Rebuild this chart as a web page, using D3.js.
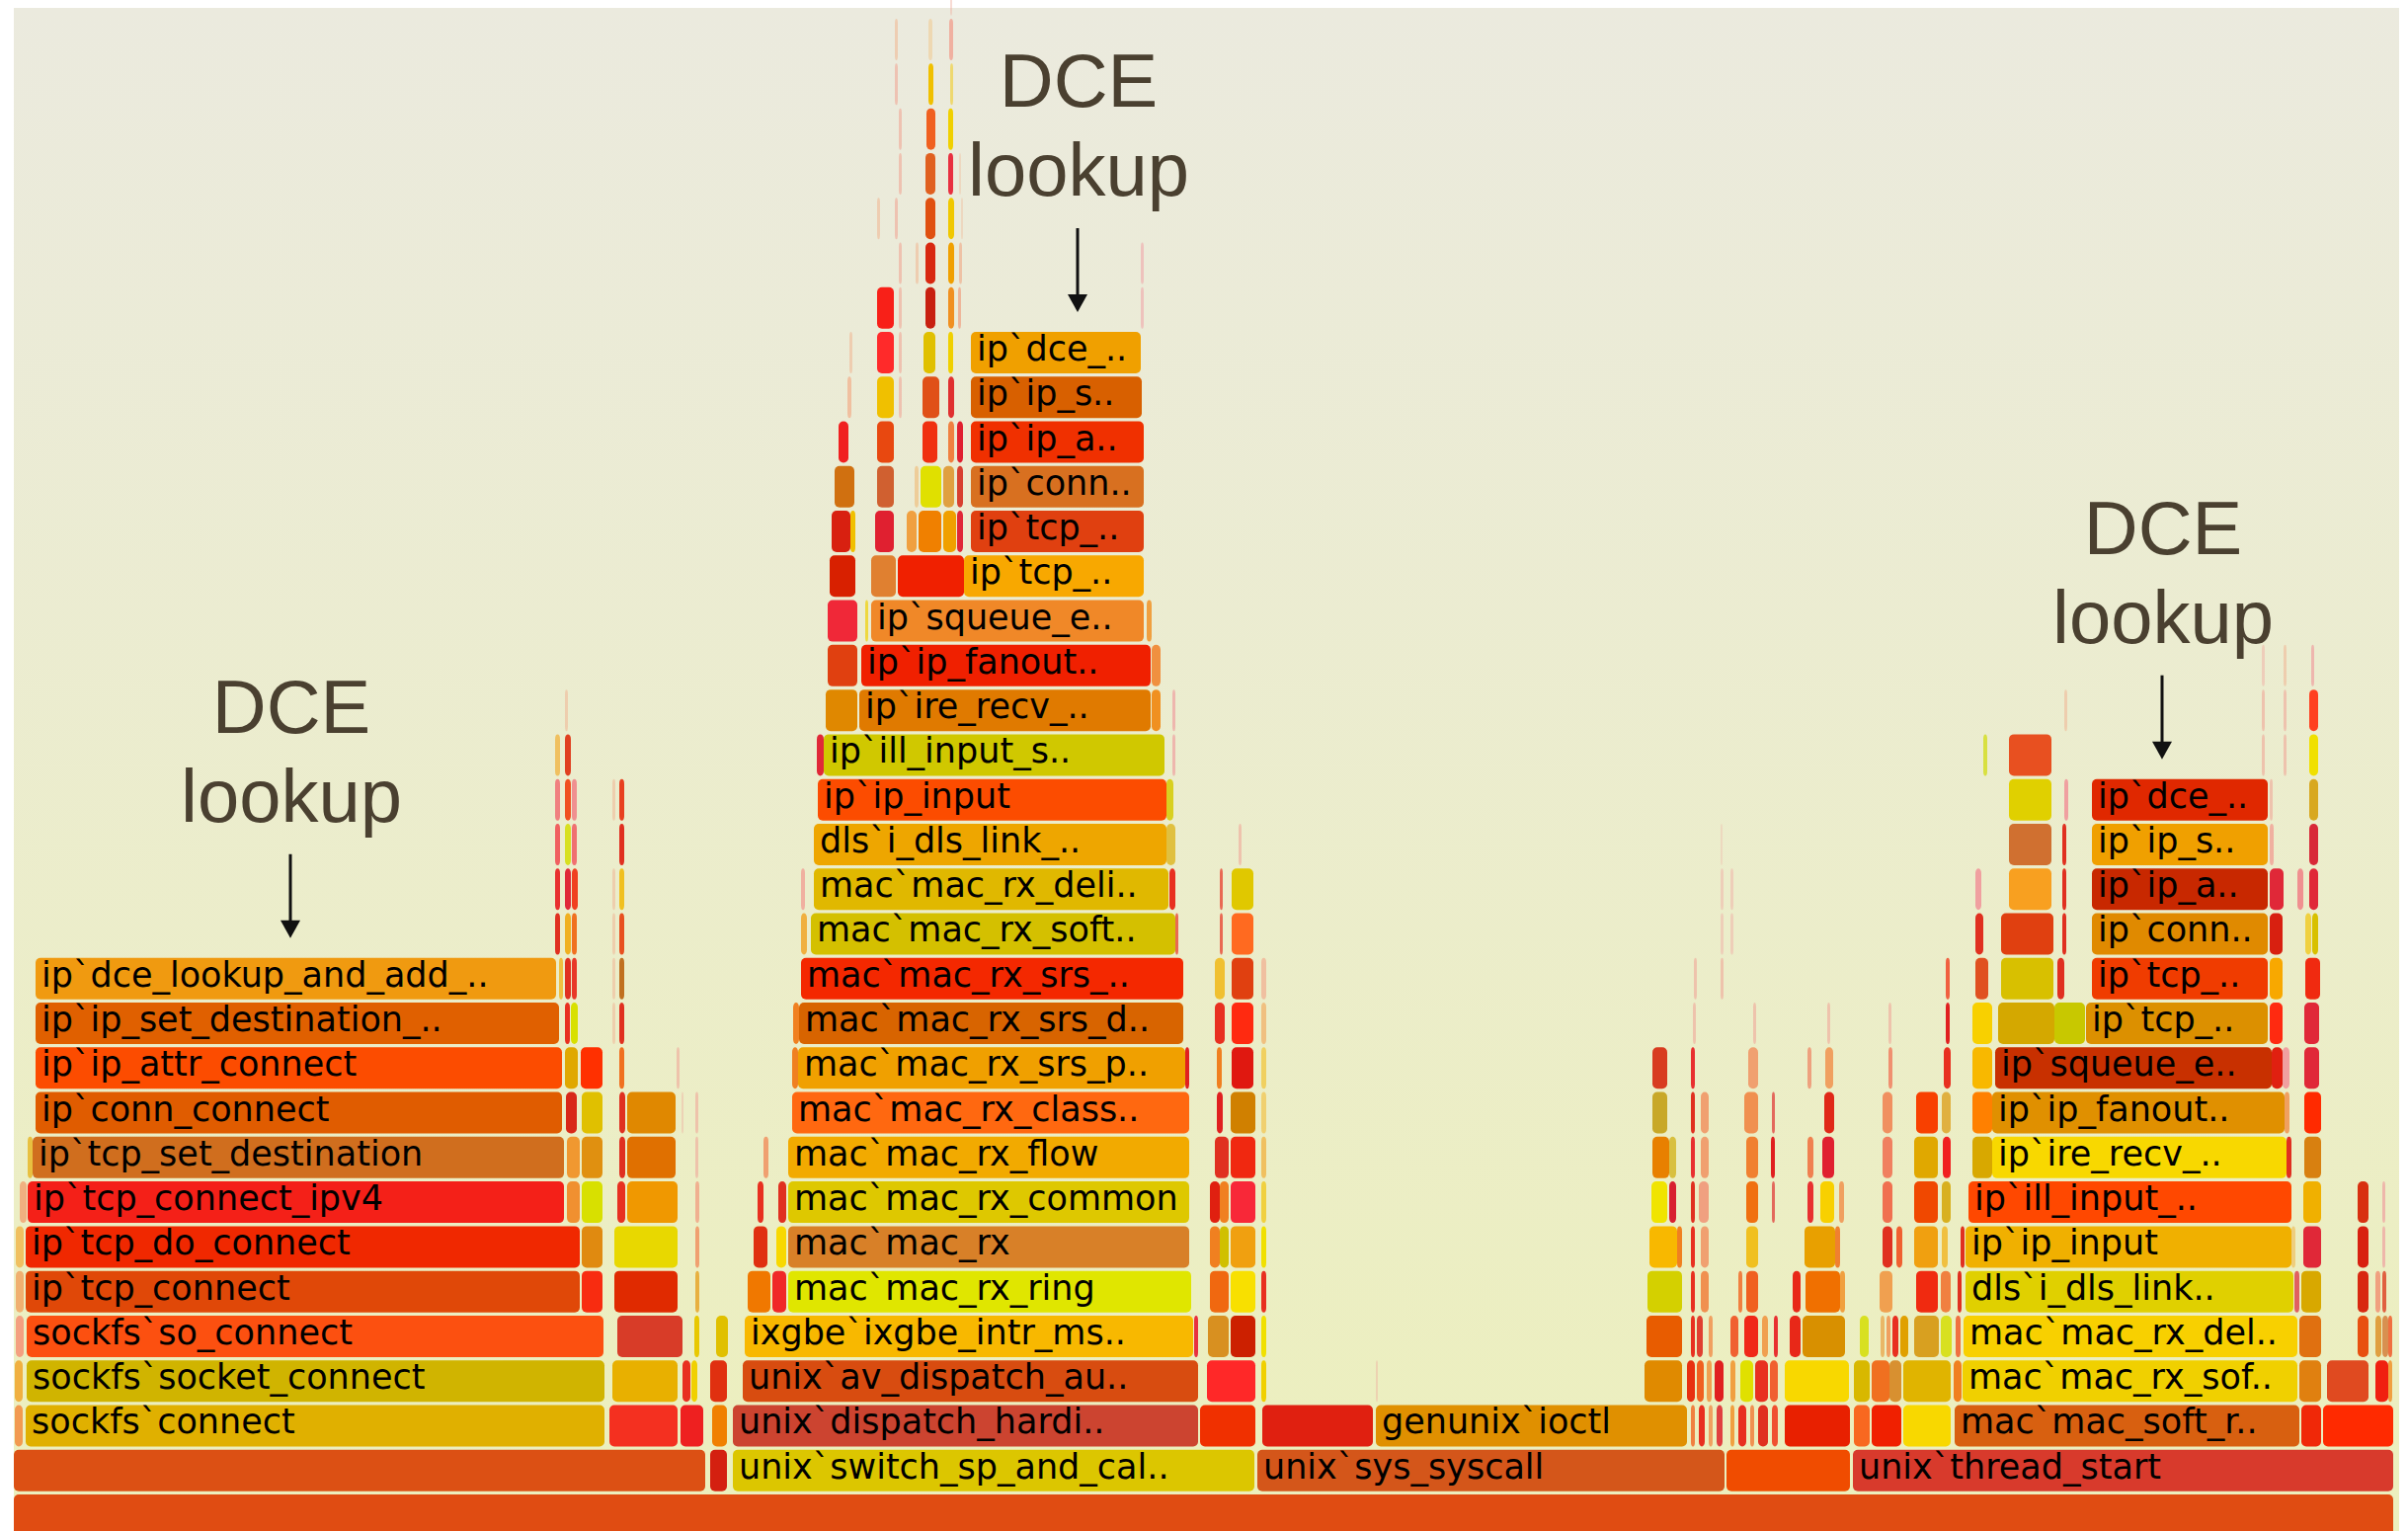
<!DOCTYPE html>
<html>
<head>
<meta charset="utf-8">
<script src="https://cdn.jsdelivr.net/npm/d3@7"></script>
<style>
  html, body { margin: 0; padding: 0; background: #ffffff; }
  svg { display: block; }
</style>
</head>
<body>
<script>
// ---------------------------------------------------------------------------
// Flame graph of kernel stacks: connect() path, NIC receive path, syscalls
// and soft-ring worker threads. Each frame: [depth, firstSample, samples, label]
// ---------------------------------------------------------------------------
const TOTAL_SAMPLES = 2409;

const rootFrames = [
  [0, 0, 2409, ""]
];
const rootFills = ["#e04c12"];

// sockfs connect() -> tcp -> ip destination / DCE lookup
const connectFrames = [
  [1, 0, 700, ""], [1, 705, 17, ""],
  [2, 1, 8, ""], [2, 12, 586, "sockfs`connect"], [2, 603, 69, ""], [2, 675, 23, ""], [2, 707, 15, ""],
  [3, 1, 8, ""], [3, 13, 585, "sockfs`socket_connect"], [3, 606, 66, ""], [3, 677, 8, ""], [3, 686, 6, ""], [3, 705, 17, ""],
  [4, 2, 8, ""], [4, 13, 584, "sockfs`so_connect"], [4, 611, 66, ""], [4, 689, 5, ""], [4, 711, 12, ""],
  [5, 2, 8, ""], [5, 12, 561, "ip`tcp_connect"], [5, 575, 21, ""], [5, 608, 64, ""], [5, 690, 4, ""],
  [6, 2, 8, ""], [6, 12, 561, "ip`tcp_do_connect"], [6, 575, 21, ""], [6, 608, 64, ""], [6, 690, 4, ""],
  [7, 6, 7, ""], [7, 14, 543, "ip`tcp_connect_ipv4"], [7, 560, 13, ""], [7, 575, 21, ""], [7, 611, 8, ""], [7, 621, 51, ""], [7, 690, 4, ""],
  [8, 14, 5, ""], [8, 19, 538, "ip`tcp_set_destination"], [8, 560, 13, ""], [8, 575, 21, ""], [8, 613, 6, ""], [8, 621, 49, ""], [8, 690, 3, ""],
  [9, 22, 533, "ip`conn_connect"], [9, 559, 11, ""], [9, 575, 21, ""], [9, 613, 6, ""], [9, 621, 49, ""], [9, 676, 2, ""], [9, 690, 3, ""],
  [10, 22, 533, "ip`ip_attr_connect"], [10, 558, 13, ""], [10, 574, 22, ""], [10, 613, 5, ""], [10, 671, 3, ""],
  [11, 22, 530, "ip`ip_set_destination_.."], [11, 558, 5, ""], [11, 564, 7, ""], [11, 613, 5, ""], [11, 606, 3, ""],
  [12, 22, 527, "ip`dce_lookup_and_add_.."], [12, 552, 4, ""], [12, 558, 6, ""], [12, 565, 5, ""], [12, 606, 3, ""], [12, 613, 5, ""],
  [13, 548, 5, ""], [13, 558, 6, ""], [13, 565, 5, ""], [13, 606, 3, ""], [13, 613, 5, ""],
  [14, 548, 5, ""], [14, 558, 6, ""], [14, 565, 6, ""], [14, 606, 3, ""], [14, 613, 5, ""],
  [15, 548, 5, ""], [15, 558, 6, ""], [15, 565, 5, ""], [15, 613, 5, ""],
  [16, 548, 5, ""], [16, 558, 6, ""], [16, 565, 5, ""], [16, 606, 3, ""], [16, 613, 5, ""],
  [17, 548, 5, ""], [17, 558, 6, ""],
  [18, 558, 3, ""]
];
const connectFills = [
  "#dc5014", "#d42010",
  "#f29a50", "#e0b000", "#f43020", "#ee2020", "#f08000",
  "#f0b040", "#d0b400", "#e8b000", "#e83020", "#f0d000", "#e03010",
  "#f4a080", "#fc5010", "#d83c28", "#e8c800", "#e0c000",
  "#f0b070", "#e04808", "#f82c10", "#e02a00", "#e8b040",
  "#f0c060", "#f02800", "#e08a10", "#e8d800", "#f0a070",
  "#f0b080", "#f42018", "#f09030", "#d8e000", "#e83020", "#f09800", "#f0b090",
  "#e8c040", "#d06e1e", "#f09830", "#e09010", "#e03020", "#e07000", "#f0b0a0",
  "#e05c00", "#d82818", "#e0c000", "#e03020", "#e08800", "#f0b0a0", "#f0b0a0",
  "#fc4c00", "#e0a800", "#ff3000", "#f07020", "#f0b0a0",
  "#e06000", "#e83020", "#d8e000", "#e03020", "#f0c0a0",
  "#f09a10", "#f0c040", "#e03020", "#e83828", "#f0c0a0", "#c07020",
  "#e03020", "#f0b020", "#f07020", "#f0c0a0", "#e85020",
  "#e83030", "#e02838", "#f04020", "#f0c0a0", "#f0c020",
  "#f06060", "#d8e020", "#f07070", "#e03020",
  "#f08080", "#f05020", "#f09090", "#f0c0a0", "#e84020",
  "#f0c060", "#e04020",
  "#f0c0a0"
];

// hardware interrupt -> mac receive -> ip input -> tcp -> DCE lookup
const interruptFrames = [
  [1, 728, 528, "unix`switch_sp_and_cal.."],
  [2, 728, 471, "unix`dispatch_hardi.."], [2, 1201, 56, ""],
  [3, 738, 461, "unix`av_dispatch_au.."], [3, 1208, 49, ""], [3, 1263, 5, ""],
  [4, 740, 454, "ixgbe`ixgbe_intr_ms.."], [4, 1195, 4, ""], [4, 1209, 21, ""], [4, 1232, 25, ""], [4, 1263, 5, ""],
  [5, 743, 23, ""], [5, 768, 14, ""], [5, 784, 408, "mac`mac_rx_ring"], [5, 1211, 19, ""], [5, 1232, 25, ""], [5, 1263, 5, ""],
  [6, 749, 14, ""], [6, 772, 10, ""], [6, 784, 406, "mac`mac_rx"], [6, 1211, 10, ""], [6, 1221, 9, ""], [6, 1232, 25, ""], [6, 1263, 5, ""],
  [7, 753, 6, ""], [7, 774, 8, ""], [7, 784, 406, "mac`mac_rx_common"], [7, 1211, 10, ""], [7, 1221, 9, ""], [7, 1232, 25, ""], [7, 1263, 5, ""],
  [8, 759, 5, ""], [8, 784, 406, "mac`mac_rx_flow"], [8, 1216, 14, ""], [8, 1232, 25, ""], [8, 1263, 5, ""],
  [9, 788, 402, "mac`mac_rx_class.."], [9, 1218, 6, ""], [9, 1232, 25, ""], [9, 1263, 5, ""],
  [10, 788, 6, ""], [10, 794, 392, "mac`mac_rx_srs_p.."], [10, 1186, 4, ""], [10, 1218, 5, ""], [10, 1233, 22, ""], [10, 1263, 5, ""],
  [11, 789, 6, ""], [11, 795, 389, "mac`mac_rx_srs_d.."], [11, 1216, 10, ""], [11, 1233, 22, ""], [11, 1263, 5, ""],
  [12, 797, 387, "mac`mac_rx_srs_.."], [12, 1216, 10, ""], [12, 1233, 22, ""], [12, 1263, 5, ""],
  [13, 797, 6, ""], [13, 807, 369, "mac`mac_rx_soft.."], [13, 1176, 3, ""], [13, 1221, 3, ""], [13, 1233, 22, ""],
  [14, 797, 4, ""], [14, 810, 359, "mac`mac_rx_deli.."], [14, 1170, 6, ""], [14, 1221, 3, ""], [14, 1233, 22, ""],
  [15, 810, 357, "dls`i_dls_link_.."], [15, 1167, 9, ""], [15, 1240, 3, ""],
  [16, 814, 353, "ip`ip_input"], [16, 1167, 7, ""],
  [17, 813, 7, ""], [17, 820, 345, "ip`ill_input_s.."], [17, 1173, 3, ""],
  [18, 822, 32, ""], [18, 856, 295, "ip`ire_recv_.."], [18, 1152, 9, ""], [18, 1173, 3, ""],
  [19, 824, 30, ""], [19, 858, 293, "ip`ip_fanout.."], [19, 1152, 9, ""],
  [20, 824, 30, ""], [20, 862, 3, ""], [20, 868, 276, "ip`squeue_e.."], [20, 1147, 5, ""],
  [21, 826, 26, ""], [21, 868, 25, ""], [21, 895, 67, ""], [21, 962, 182, "ip`tcp_.."],
  [22, 828, 19, ""], [22, 847, 5, ""], [22, 872, 19, ""], [22, 904, 10, ""], [22, 916, 23, ""], [22, 941, 13, ""], [22, 955, 6, ""], [22, 969, 175, "ip`tcp_.."],
  [23, 831, 20, ""], [23, 874, 17, ""], [23, 912, 4, ""], [23, 918, 21, ""], [23, 941, 11, ""], [23, 955, 6, ""], [23, 969, 175, "ip`conn.."],
  [24, 835, 10, ""], [24, 874, 17, ""], [24, 920, 15, ""], [24, 946, 6, ""], [24, 955, 6, ""], [24, 969, 175, "ip`ip_a.."],
  [25, 844, 4, ""], [25, 874, 17, ""], [25, 896, 3, ""], [25, 920, 17, ""], [25, 946, 6, ""], [25, 969, 173, "ip`ip_s.."],
  [26, 846, 3, ""], [26, 874, 17, ""], [26, 896, 3, ""], [26, 921, 12, ""], [26, 946, 5, ""], [26, 969, 172, "ip`dce_.."],
  [27, 874, 17, ""], [27, 896, 3, ""], [27, 923, 10, ""], [27, 946, 6, ""], [27, 956, 3, ""], [27, 1141, 3, ""],
  [28, 896, 3, ""], [28, 913, 3, ""], [28, 923, 10, ""], [28, 946, 6, ""], [28, 957, 3, ""], [28, 1141, 3, ""],
  [29, 874, 3, ""], [29, 892, 3, ""], [29, 923, 10, ""], [29, 946, 6, ""], [29, 959, 2, ""],
  [30, 896, 3, ""], [30, 923, 10, ""], [30, 946, 5, ""], [30, 957, 2, ""],
  [31, 896, 3, ""], [31, 924, 9, ""], [31, 946, 5, ""],
  [32, 892, 3, ""], [32, 926, 5, ""], [32, 948, 3, ""],
  [33, 892, 3, ""], [33, 926, 4, ""], [33, 947, 4, ""],
  [34, 948, 2, ""]
];
const interruptFills = [
  "#dcc600",
  "#cc4430", "#f03000",
  "#d84c10", "#ff2828", "#f0d000",
  "#f8b800", "#e83040", "#d89020", "#cc2000", "#f0e000",
  "#f07800", "#f02828", "#e0e600", "#f06810", "#f8e000", "#e83020",
  "#e03010", "#f8d800", "#d88028", "#f08020", "#d0c000", "#f0a010", "#f0e000",
  "#e83020", "#e03020", "#dec800", "#e02010", "#f08020", "#f82838", "#f0d040",
  "#f0a070", "#f2aa00", "#e03020", "#f02810", "#f0c060",
  "#ff6810", "#e02020", "#d08000", "#f0d070",
  "#f08020", "#f0a000", "#e02020", "#f08020", "#e01810", "#f0d060",
  "#f08020", "#d86400", "#e83020", "#ff2a10", "#f0c080",
  "#f42800", "#f0c030", "#e04010", "#f0c0a0",
  "#f0b040", "#d4c000", "#e83020", "#e83020", "#ff6a20",
  "#f0b0a0", "#e0b800", "#e83020", "#e83020", "#e0c800",
  "#eea600", "#e0c040", "#f0b0a0",
  "#fc4c00", "#d8d020",
  "#e02838", "#d0c800", "#f0a0a0",
  "#e08800", "#e07a00", "#f09020", "#f0a0a0",
  "#e04010", "#f02000", "#f09040",
  "#f02838", "#f0d000", "#f08828", "#f0a040",
  "#d82000", "#e08030", "#f02000", "#f8a800",
  "#d82010", "#f0c000", "#e02030", "#f0a040", "#f08000", "#f0a000", "#e02838", "#e04010",
  "#d07010", "#d06030", "#f0c080", "#e0e000", "#e0a040", "#d84030", "#d87020",
  "#f02020", "#e84810", "#f03010", "#f08040", "#e02030", "#f03000",
  "#f0c0a0", "#f0c000", "#f0b0a0", "#e05018", "#e03030", "#d86000",
  "#f0c0a0", "#ff2a2a", "#f0b0a0", "#e0c000", "#f0d000", "#f0a000",
  "#f82018", "#f0b0a0", "#c82010", "#f09020", "#f0a080", "#f0b0b0",
  "#f0b0a0", "#f0c0a0", "#d82810", "#f0a000", "#f0b090", "#f0b0b0",
  "#f0c0a0", "#f0b0a0", "#e05010", "#f0c800", "#f0c0a0",
  "#f0b0a0", "#e06020", "#e83040", "#f0c0a0",
  "#f0b0a0", "#f06020", "#f0d000",
  "#f0b0a0", "#f0c000", "#f0d040",
  "#f0c0a0", "#f0d0a0", "#f0b0a0",
  "#f0b0a0"
];

// system calls: ioctl and friends
const syscallFrames = [
  [1, 1259, 473, "unix`sys_syscall"], [1, 1734, 125, ""],
  [2, 1264, 112, ""], [2, 1379, 315, "genunix`ioctl"], [2, 1698, 4, ""], [2, 1706, 6, ""], [2, 1716, 4, ""], [2, 1724, 6, ""], [2, 1738, 4, ""], [2, 1746, 8, ""], [2, 1758, 4, ""], [2, 1766, 10, ""], [2, 1780, 6, ""], [2, 1793, 66, ""], [2, 1863, 16, ""], [2, 1881, 30, ""], [2, 1913, 48, ""],
  [3, 1379, 2, ""], [3, 1651, 38, ""], [3, 1694, 8, ""], [3, 1704, 7, ""], [3, 1714, 5, ""], [3, 1722, 9, ""], [3, 1738, 5, ""], [3, 1748, 13, ""], [3, 1763, 13, ""], [3, 1778, 8, ""], [3, 1793, 65, ""], [3, 1863, 16, ""], [3, 1881, 18, ""], [3, 1899, 12, ""], [3, 1913, 48, ""],
  [4, 1653, 36, ""], [4, 1698, 4, ""], [4, 1704, 6, ""], [4, 1716, 4, ""], [4, 1738, 8, ""], [4, 1752, 14, ""], [4, 1770, 6, ""], [4, 1782, 4, ""], [4, 1798, 11, ""], [4, 1811, 43, ""], [4, 1869, 9, ""], [4, 1890, 4, ""], [4, 1896, 4, ""], [4, 1902, 6, ""], [4, 1910, 8, ""], [4, 1924, 25, ""], [4, 1951, 11, ""],
  [5, 1654, 35, ""], [5, 1698, 4, ""], [5, 1708, 8, ""], [5, 1746, 4, ""], [5, 1754, 12, ""], [5, 1801, 8, ""], [5, 1814, 35, ""], [5, 1849, 5, ""], [5, 1889, 13, ""], [5, 1926, 22, ""], [5, 1951, 10, ""],
  [6, 1656, 28, ""], [6, 1684, 5, ""], [6, 1698, 4, ""], [6, 1708, 8, ""], [6, 1754, 12, ""], [6, 1813, 31, ""], [6, 1844, 5, ""], [6, 1892, 10, ""], [6, 1906, 6, ""], [6, 1924, 24, ""], [6, 1952, 6, ""],
  [7, 1658, 16, ""], [7, 1676, 7, ""], [7, 1698, 4, ""], [7, 1706, 10, ""], [7, 1754, 12, ""], [7, 1780, 3, ""], [7, 1816, 6, ""], [7, 1829, 14, ""], [7, 1848, 5, ""], [7, 1892, 10, ""], [7, 1924, 24, ""], [7, 1952, 9, ""],
  [8, 1659, 17, ""], [8, 1676, 7, ""], [8, 1698, 4, ""], [8, 1708, 8, ""], [8, 1754, 12, ""], [8, 1779, 4, ""], [8, 1816, 6, ""], [8, 1831, 12, ""], [8, 1892, 10, ""], [8, 1924, 24, ""], [8, 1953, 8, ""],
  [9, 1659, 15, ""], [9, 1698, 4, ""], [9, 1708, 8, ""], [9, 1752, 14, ""], [9, 1780, 3, ""], [9, 1833, 10, ""], [9, 1892, 10, ""], [9, 1926, 22, ""], [9, 1952, 9, ""],
  [10, 1659, 15, ""], [10, 1698, 4, ""], [10, 1756, 10, ""], [10, 1816, 4, ""], [10, 1834, 8, ""], [10, 1898, 4, ""], [10, 1954, 7, ""],
  [11, 1700, 3, ""], [11, 1761, 3, ""], [11, 1836, 3, ""], [11, 1898, 3, ""], [11, 1956, 4, ""],
  [12, 1701, 3, ""], [12, 1728, 3, ""], [12, 1956, 4, ""],
  [13, 1728, 3, ""], [13, 1738, 3, ""],
  [14, 1728, 3, ""], [14, 1738, 3, ""],
  [15, 1728, 2, ""]
];
const syscallFills = [
  "#d4561a", "#f04c00",
  "#e02010", "#e09000", "#f08040", "#e83020", "#f0a060", "#e04040", "#f0a040", "#e83020", "#f09050", "#e03020", "#f05030", "#e82000", "#f86820", "#f02000", "#f8d800",
  "#f0b0a0", "#e08a00", "#e83010", "#f06020", "#f0a050", "#e02020", "#f0a040", "#e0e000", "#e83020", "#f06030", "#f8d800", "#d8b800", "#f07020", "#d89030", "#e0b400",
  "#e85c00", "#e83020", "#e04030", "#f0a060", "#f06030", "#f02818", "#f0a050", "#e83030", "#e82818", "#d89000", "#d8e020", "#e8a040", "#f0a060", "#e83020", "#e0a000", "#d8a020", "#d8e020",
  "#d4d000", "#e83020", "#f09050", "#f08040", "#f06020", "#e82818", "#f07000", "#f0a040", "#f0a050", "#f02a10", "#f08040",
  "#f8b800", "#f08020", "#e83020", "#f0a070", "#f0c020", "#e8a000", "#f08030", "#e03020", "#f06030", "#f0a010", "#f0c040",
  "#f0e400", "#d82030", "#e03020", "#f0a080", "#f07010", "#e03030", "#e83030", "#f8d000", "#f0a060", "#f07050", "#f04800", "#d8b020",
  "#e88000", "#d8c040", "#e83030", "#f0a070", "#f08030", "#e02020", "#f08050", "#e02030", "#f08060", "#e0a800", "#f02020",
  "#c8a828", "#e03020", "#f0a070", "#f09050", "#e03030", "#e02818", "#f09060", "#f84000", "#e0b040",
  "#d83c20", "#e83030", "#f0a070", "#f08060", "#f0a060", "#f09070", "#e83020",
  "#f0b0a0", "#f0b0a0", "#f0b0a0", "#f0b0a0", "#e02020",
  "#f0b0a0", "#f0b0a0", "#f06040",
  "#f0c0b0", "#f0c0b0",
  "#f0c0b0", "#f0c0b0",
  "#f0c0b0"
];

// soft ring worker threads: mac_soft_ring -> ip input -> tcp -> DCE lookup
const threadFrames = [
  [1, 1862, 547, "unix`thread_start"],
  [2, 1965, 349, "mac`mac_soft_r.."], [2, 2316, 20, ""], [2, 2338, 71, ""],
  [3, 1964, 8, ""], [3, 1973, 339, "mac`mac_rx_sof.."], [3, 2314, 22, ""], [3, 2342, 42, ""], [3, 2391, 13, ""], [3, 2404, 4, ""],
  [4, 1966, 5, ""], [4, 1974, 338, "mac`mac_rx_del.."], [4, 2314, 22, ""], [4, 2373, 11, ""], [4, 2391, 6, ""], [4, 2398, 6, ""], [4, 2404, 4, ""],
  [5, 1968, 4, ""], [5, 1976, 332, "dls`i_dls_link.."], [5, 2309, 5, ""], [5, 2316, 20, ""], [5, 2373, 11, ""], [5, 2391, 5, ""], [5, 2398, 4, ""],
  [6, 1971, 4, ""], [6, 1976, 330, "ip`ip_input"], [6, 2306, 4, ""], [6, 2318, 18, ""], [6, 2373, 11, ""], [6, 2398, 3, ""],
  [7, 1979, 327, "ip`ill_input_.."], [7, 2318, 18, ""], [7, 2373, 11, ""], [7, 2398, 3, ""],
  [8, 1983, 20, ""], [8, 2003, 298, "ip`ire_recv_.."], [8, 2301, 5, ""], [8, 2319, 17, ""],
  [9, 1983, 20, ""], [9, 2003, 296, "ip`ip_fanout.."], [9, 2299, 5, ""], [9, 2319, 17, ""],
  [10, 1983, 20, ""], [10, 2006, 280, "ip`squeue_e.."], [10, 2286, 11, ""], [10, 2297, 7, ""], [10, 2319, 15, ""],
  [11, 1983, 20, ""], [11, 2009, 57, ""], [11, 2066, 31, ""], [11, 2098, 184, "ip`tcp_.."], [11, 2284, 13, ""], [11, 2319, 15, ""],
  [12, 1986, 13, ""], [12, 2012, 53, ""], [12, 2069, 7, ""], [12, 2104, 178, "ip`tcp_.."], [12, 2284, 13, ""], [12, 2320, 15, ""],
  [13, 1986, 8, ""], [13, 2012, 53, ""], [13, 2074, 4, ""], [13, 2104, 178, "ip`conn.."], [13, 2284, 13, ""], [13, 2320, 6, ""], [13, 2327, 6, ""],
  [14, 1986, 6, ""], [14, 2020, 43, ""], [14, 2074, 4, ""], [14, 2104, 178, "ip`ip_a.."], [14, 2284, 14, ""], [14, 2312, 6, ""], [14, 2324, 9, ""],
  [15, 2020, 43, ""], [15, 2074, 4, ""], [15, 2104, 178, "ip`ip_s.."], [15, 2284, 4, ""], [15, 2324, 9, ""],
  [16, 2020, 43, ""], [16, 2076, 4, ""], [16, 2104, 178, "ip`dce_.."], [16, 2284, 3, ""], [16, 2324, 9, ""],
  [17, 1994, 4, ""], [17, 2020, 43, ""], [17, 2276, 3, ""], [17, 2298, 3, ""], [17, 2324, 9, ""],
  [18, 2076, 3, ""], [18, 2276, 3, ""], [18, 2298, 3, ""], [18, 2324, 9, ""],
  [19, 2276, 3, ""], [19, 2298, 3, ""], [19, 2326, 3, ""]
];
const threadFills = [
  "#d83a2c",
  "#d86010", "#f02808", "#ff2a00",
  "#f08020", "#f0d000", "#e08010", "#e04a20", "#f02010", "#f0a040",
  "#f07040", "#f8d000", "#e07010", "#e85010", "#e0a040", "#d89050", "#f07040",
  "#e03020", "#e0d000", "#e06060", "#d8a800", "#d82810", "#f0a080", "#e06040",
  "#e03020", "#f0b000", "#f0c060", "#e02838", "#d82010", "#f0a0a0",
  "#ff4800", "#f0b000", "#d83010", "#f0a0a0",
  "#d8a800", "#f8d800", "#e03020", "#d88010",
  "#ff8000", "#e09000", "#f0a060", "#ff2a00",
  "#f8b800", "#c83000", "#e02010", "#f0a0a0", "#e02838",
  "#f8d000", "#d4a800", "#c8c800", "#dc9000", "#ff2a10", "#e02838",
  "#e05020", "#d8c000", "#e03020", "#f03c00", "#f8a800", "#f02a10",
  "#e03020", "#e04010", "#e03020", "#e08a00", "#d82010", "#f0d040", "#d8c000",
  "#f0a0a0", "#f8a020", "#e03020", "#c82800", "#e02838", "#f09090", "#e02838",
  "#d07030", "#e03020", "#f0a000", "#f0b0a0", "#d82838",
  "#e0d000", "#f0a0a0", "#e02800", "#f0b0a0", "#d8a820",
  "#d8e040", "#e85020", "#f0b0a0", "#f0b0a0", "#f0e000",
  "#f0c0a0", "#f0b0a0", "#f0b0a0", "#ff4020",
  "#f0c0b0", "#f0c0a0", "#f0a0a0"
];

// Call-outs pointing at the three DCE lookup frames: [depth, sample]
const calloutLines = ["DCE", "lookup"];
const calloutDepths = [12, 26, 16];
const calloutSamples = [280, 1077, 2175];

// ---------------------------------------------------------------------------
const W = 2438, H = 1550;
const frameGroups = [
  [rootFrames, rootFills],
  [connectFrames, connectFills],
  [interruptFrames, interruptFills],
  [syscallFrames, syscallFills],
  [threadFrames, threadFills]
];

const frames = [];
frameGroups.forEach(([list, fills]) => {
  if (list.length !== fills.length) console.warn("fill count mismatch", list.length, fills.length);
  list.forEach((f, i) => frames.push({
    depth: f[0], start: f[1], samples: f[2], label: f[3],
    fill: fills[i] || "#e06020"
  }));
});

const svg = d3.select("body").append("svg")
  .attr("width", W).attr("height", H)
  .attr("viewBox", `0 0 ${W} ${H}`);

const defs = svg.append("defs");
const grad = defs.append("linearGradient")
  .attr("id", "bg").attr("x1", 0).attr("y1", 0).attr("x2", 0).attr("y2", 1);
grad.append("stop").attr("offset", "0%").attr("stop-color", "#ebeade");
grad.append("stop").attr("offset", "100%").attr("stop-color", "#ecefbd");

svg.append("rect")
  .attr("x", 14).attr("y", 8)
  .attr("width", 2429 - 14).attr("height", H - 8)
  .attr("fill", "url(#bg)");

const x = d3.scaleLinear().domain([0, TOTAL_SAMPLES]).range([14, 2423]);
const y = d3.scaleLinear().domain([0, 1]).range([1513, 1513 - 45.27]);
const frameHeight = 42;

const g = svg.append("g").attr("class", "frames");

const nodes = g.selectAll("g.frame")
  .data(frames)
  .join("g")
  .attr("class", "frame")
  .attr("transform", d => `translate(${x(d.start)},${y(d.depth)})`);

nodes.append("rect")
  .attr("width", d => Math.max(1, x(d.start + d.samples) - x(d.start)))
  .attr("height", frameHeight)
  .attr("rx", 5).attr("ry", 5)
  .attr("fill", d => d.fill)
  .attr("opacity", d => {
    const w = x(d.start + d.samples) - x(d.start);
    return w < 2.5 ? 0.45 : (w < 4 ? 0.7 : 1);
  });

nodes.filter(d => d.label)
  .append("text")
  .attr("x", 6)
  .attr("y", 29)
  .attr("font-family", "'DejaVu Sans', Verdana, sans-serif")
  .attr("font-size", 35)
  .attr("fill", "#000")
  .text(d => d.label);

// Call-outs
const callouts = svg.append("g").attr("class", "callouts");
calloutDepths.forEach((depth, i) => {
  const ax = x(calloutSamples[i]);
  const tip = y(depth) - 20;
  const top = tip - 85;
  const c = callouts.append("g");
  c.append("line")
    .attr("x1", ax).attr("x2", ax)
    .attr("y1", top).attr("y2", tip - 14)
    .attr("stroke", "#111").attr("stroke-width", 3);
  c.append("path")
    .attr("d", `M${ax - 10},${tip - 18} L${ax + 10},${tip - 18} L${ax},${tip} Z`)
    .attr("fill", "#111");
  const lookupBase = top - 33;
  c.append("text")
    .attr("x", ax + 1).attr("y", lookupBase - 90)
    .attr("text-anchor", "middle")
    .attr("font-family", "'Liberation Sans', Arial, sans-serif")
    .attr("font-size", 76)
    .attr("fill", "#4a4030")
    .text(calloutLines[0]);
  c.append("text")
    .attr("x", ax + 1).attr("y", lookupBase)
    .attr("text-anchor", "middle")
    .attr("font-family", "'Liberation Sans', Arial, sans-serif")
    .attr("font-size", 76)
    .attr("fill", "#4a4030")
    .text(calloutLines[1]);
});
</script>
</body>
</html>
